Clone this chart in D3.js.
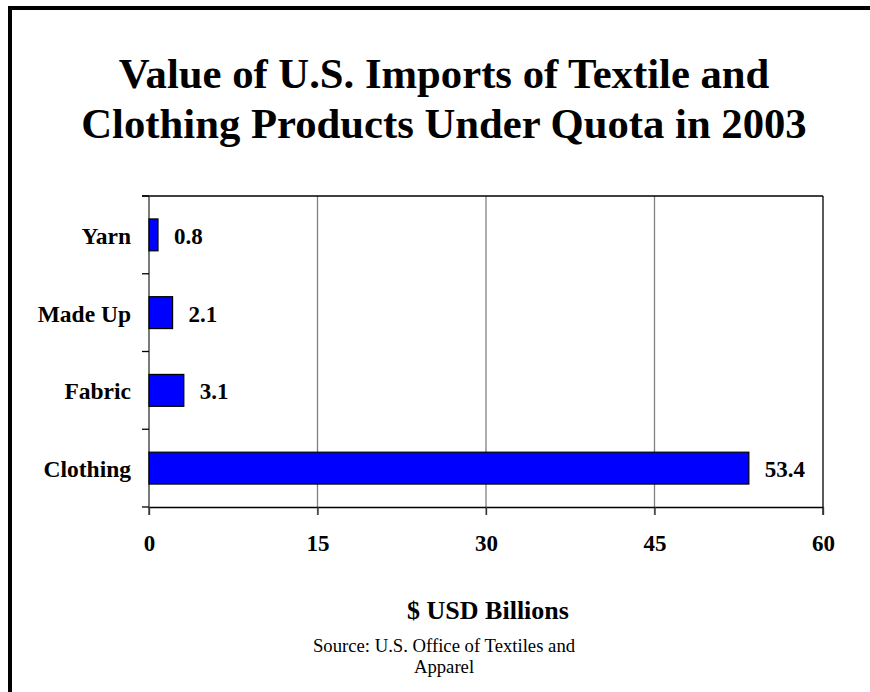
<!DOCTYPE html>
<html>
<head>
<meta charset="utf-8">
<script src="https://cdn.jsdelivr.net/npm/d3@7"></script>
<style>
  body { margin: 0; background: #fff; }
  text { font-family: "Liberation Serif", "Times New Roman", serif; fill: #000; }
</style>
</head>
<body>
<div id="chart"></div>
<script>
// data
var categories = ["Yarn", "Made Up", "Fabric", "Clothing"];
var values = [0.8, 2.1, 3.1, 53.4];
var xTicks = [0, 15, 30, 45, 60];
var titleLines = ["Value of U.S. Imports of Textile and", "Clothing Products Under Quota in 2003"];
var sourceLines = ["Source: U.S. Office of Textiles and", "Apparel"];

var svgWidth = 870;
var svgHeight = 692;

var margin = { top: 196, left: 149, right: 47, bottom: 185 };
var width = svgWidth - margin.left - margin.right;
var height = svgHeight - margin.top - margin.bottom;

var svg = d3.select("#chart")
  .append("svg")
  .attr("width", svgWidth)
  .attr("height", svgHeight);

// outer frame (only top and left edges fall inside the window)
svg.append("rect")
  .attr("x", 10)
  .attr("y", 8)
  .attr("width", 2000)
  .attr("height", 2000)
  .attr("fill", "none")
  .attr("stroke", "#000")
  .attr("stroke-width", 4);

// title
svg.append("text")
  .attr("x", 444)
  .attr("y", 88)
  .attr("text-anchor", "middle")
  .style("font-size", "42.7px")
  .style("font-weight", "bold")
  .selectAll("tspan")
  .data(titleLines)
  .enter()
  .append("tspan")
  .attr("x", 444)
  .attr("dy", (d, i) => i === 0 ? 0 : 50)
  .text(d => d);

var chartGroup = svg.append("g")
  .attr("transform", `translate(${margin.left}, ${margin.top})`);

var xScale = d3.scaleLinear()
  .domain([0, 60])
  .range([0, width]);

var yScale = d3.scaleBand()
  .domain(categories)
  .range([0, height])
  .paddingInner(0.59)
  .paddingOuter(0.295);

var step = yScale.step();

// gridlines
chartGroup.selectAll(".grid")
  .data(xTicks.slice(1, -1))
  .enter()
  .append("line")
  .attr("x1", d => xScale(d))
  .attr("x2", d => xScale(d))
  .attr("y1", 0)
  .attr("y2", height + 8)
  .attr("stroke", "#808080")
  .attr("stroke-width", 1.3);

// plot frame: top and right
chartGroup.append("line")
  .attr("x1", -7).attr("x2", width)
  .attr("y1", 0).attr("y2", 0)
  .attr("stroke", "#000").attr("stroke-width", 1.3);

chartGroup.append("line")
  .attr("x1", width).attr("x2", width)
  .attr("y1", 0).attr("y2", height + 8)
  .attr("stroke", "#000").attr("stroke-width", 1.3);

// x axis
var bottomAxis = d3.axisBottom(xScale)
  .tickValues(xTicks)
  .tickSizeInner(8)
  .tickSizeOuter(0)
  .tickPadding(0);

var xAxis = chartGroup.append("g")
  .attr("transform", `translate(0, ${height})`)
  .call(bottomAxis);

xAxis.select(".domain").attr("stroke", "#000").attr("stroke-width", 1.3);
xAxis.selectAll(".tick line").attr("stroke", "#333").attr("stroke-width", 1.3);
xAxis.selectAll(".tick text")
  .attr("y", 44)
  .attr("dy", 0)
  .style("font-family", "'Liberation Serif', 'Times New Roman', serif")
  .style("font-size", "23px")
  .style("font-weight", "bold")
  .attr("fill", "#000");

// y axis line and category boundary ticks
chartGroup.append("line")
  .attr("x1", 0).attr("x2", 0)
  .attr("y1", 0).attr("y2", height + 8)
  .attr("stroke", "#333").attr("stroke-width", 1.3);

var boundaries = categories.map(c => yScale(c) - step * yScale.paddingInner() / 2)
  .concat([height]);

chartGroup.selectAll(".ytick")
  .data(boundaries)
  .enter()
  .append("line")
  .attr("x1", -7).attr("x2", 0)
  .attr("y1", d => d).attr("y2", d => d)
  .attr("stroke", "#000").attr("stroke-width", 1.3);

// category labels
chartGroup.selectAll(".cat")
  .data(categories)
  .enter()
  .append("text")
  .attr("x", -18)
  .attr("y", d => yScale(d) + yScale.bandwidth() / 2 + 9)
  .attr("text-anchor", "end")
  .style("font-size", "23.5px")
  .style("font-weight", "bold")
  .text(d => d);

// bars
chartGroup.selectAll(".bar")
  .data(values)
  .enter()
  .append("rect")
  .attr("x", 0)
  .attr("y", (d, i) => yScale(categories[i]))
  .attr("width", d => xScale(d))
  .attr("height", yScale.bandwidth())
  .attr("fill", "#0000ff")
  .attr("stroke", "#000")
  .attr("stroke-width", 1.2);

// value labels
chartGroup.selectAll(".val")
  .data(values)
  .enter()
  .append("text")
  .attr("x", d => xScale(d) + 16)
  .attr("y", (d, i) => yScale(categories[i]) + yScale.bandwidth() / 2 + 9)
  .style("font-size", "23px")
  .style("font-weight", "bold")
  .text(d => d.toFixed(1));

// axis title
svg.append("text")
  .attr("x", 488)
  .attr("y", 619)
  .attr("text-anchor", "middle")
  .style("font-size", "26px")
  .style("font-weight", "bold")
  .text("$ USD Billions");

// source note
svg.append("text")
  .attr("text-anchor", "middle")
  .style("font-size", "18.7px")
  .selectAll("tspan")
  .data(sourceLines)
  .enter()
  .append("tspan")
  .attr("x", 444)
  .attr("y", (d, i) => 652 + i * 21)
  .text(d => d);
</script>
</body>
</html>
